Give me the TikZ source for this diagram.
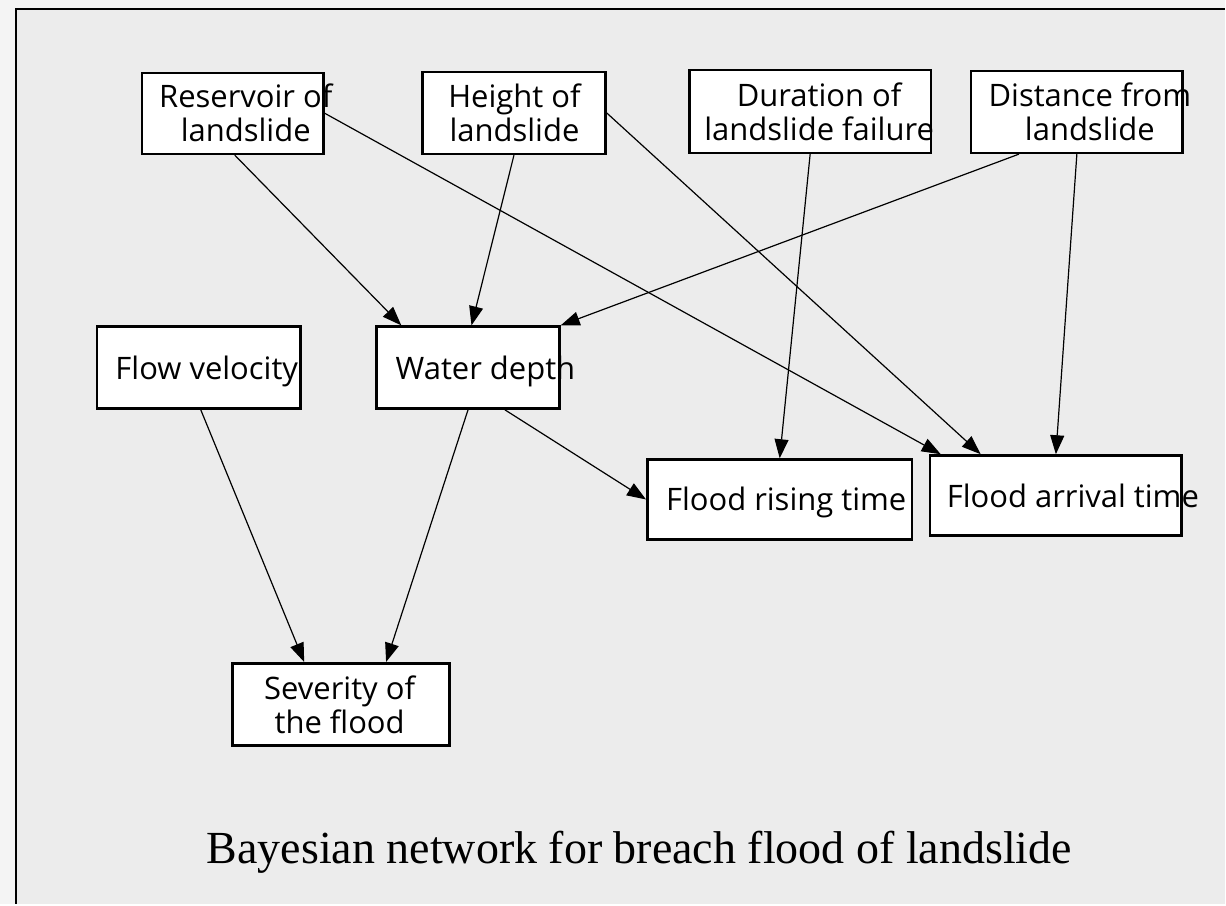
\documentclass[tikz,border=0pt]{standalone}
\usepackage{fontspec}
\setmainfont{Liberation Serif}
\newfontfamily\boxfont{Open Sans}
\usetikzlibrary{arrows.meta,calc}
\definecolor{panel}{HTML}{ECECEC}
\definecolor{margin}{HTML}{F4F4F4}
\tikzset{
  varbox/.style={draw=black, line width=2.6pt, fill=white, inner sep=0pt},
  boxtext/.style={font=\boxfont\fontsize{31}{34}\selectfont, align=center, inner sep=0pt},
  link/.style={line width=1.2pt, -{Triangle[length=19pt,width=14pt]}},
}
\begin{document}
\begin{tikzpicture}[x=1pt,y=-1pt]
% canvas and framed panel
\fill[margin] (0,0) rectangle (1226,905);
\fill[panel] (16,9) rectangle (1226,905);
\draw[line width=2.6pt] (1226,9) -- (16,9) -- (16,905);
\useasboundingbox (0,0) rectangle (1226,905);

% variable boxes
\node[varbox, minimum width=182pt, minimum height=81pt] (res) at (233,113.5) {};
\node[varbox, minimum width=183pt, minimum height=82pt] (hgt) at (514.5,113) {};
\node[varbox, minimum width=242pt, minimum height=83pt] (dur) at (811,111.5) {};
\node[varbox, minimum width=212pt, minimum height=82pt] (dist) at (1078,112) {};
\node[varbox, minimum width=204pt, minimum height=82pt] (fv) at (199,368) {};
\node[varbox, minimum width=183pt, minimum height=82pt] (wd) at (468.5,368) {};
\node[varbox, minimum width=265pt, minimum height=80pt] (ris) at (780.5,500) {};
\node[varbox, minimum width=252pt, minimum height=80pt] (arr) at (1057,496) {};
\node[varbox, minimum width=217pt, minimum height=82pt] (sev) at (341.5,705) {};

% box labels (set slightly off-centre, as they run past the borders)
\node[boxtext] (tres) at (246,113) {Reservoir of\\ landslide};
\node[boxtext] (thgt) at (515,113) {Height of\\ landslide};
\node[boxtext] (tdur) at (820,112) {Duration of\\ landslide failure};
\node[boxtext] (tdist) at (1091,112) {Distance from\\ landslide};
\node[boxtext, anchor=base] (tfv) at (207,380) {Flow velocity};
\node[boxtext, anchor=base] (twd) at (486,380) {Water depth};
\node[boxtext, anchor=base] (tris) at (787,511) {Flood rising time};
\node[boxtext, anchor=base] (tarr) at (1074,508) {Flood arrival time};
\node[boxtext] (tsev) at (340,706) {Severity of\\ the flood};

% dependencies
\draw[link] ([xshift=2pt]res.south) -- ([xshift=26pt]wd.north west);
\draw[link] (hgt.south) -- ([xshift=3.5pt]wd.north);
\draw[link] ([xshift=-58pt]dist.south) -- (wd.north east);
\draw[link] (res.east) -- ([xshift=12pt]arr.north west);
\draw[link] (hgt.east) -- ([xshift=52pt]arr.north west);
\draw[link] (dist.south) -- (arr.north);
\draw[link] (dur.south) -- (ris.north);
\draw[link] ([xshift=37pt]wd.south) -- (ris.west);
\draw[link] ([xshift=2pt]fv.south) -- ([xshift=-37pt]sev.north);
\draw[link] (wd.south) -- ([xshift=45pt]sev.north);

% caption
\node[font=\fontsize{46}{52}\selectfont, anchor=base, inner sep=0pt] (cap) at (640,864) {Bayesian network for breach flood of landslide};
\end{tikzpicture}
\end{document}
